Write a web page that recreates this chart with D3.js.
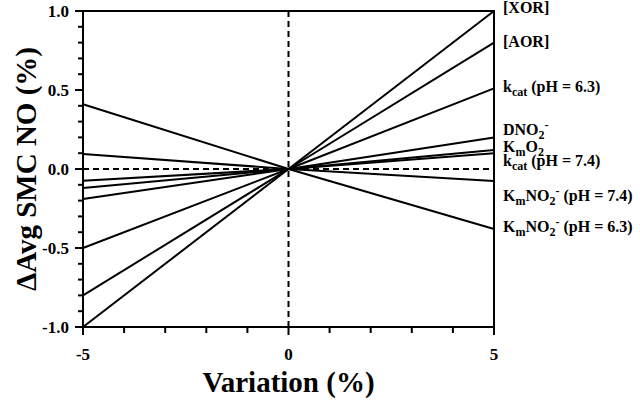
<!DOCTYPE html>
<html>
<head>
<meta charset="utf-8">
<script src="https://cdn.jsdelivr.net/npm/d3@7"></script>
<style>
  body { margin: 0; background: #fff; }
  text { font-family: "Liberation Serif", "Times New Roman", serif; font-weight: bold; fill: #000; }
</style>
</head>
<body>
<div id="chart"></div>
<script>
// Sensitivity of average SMC NO to a +/-5% parameter variation
const xPoints = [-5, 0, 5];
const seriesNames = ["XOR", "AOR", "kcat63", "DNO2", "KmO2", "kcat74", "KmNO2_74", "KmNO2_63"];
const leftValues = [-1.0, -0.8, -0.5, -0.19, -0.12, -0.075, 0.095, 0.41];
const rightValues = [1.0, 0.8, 0.51, 0.20, 0.12, 0.10, -0.076, -0.38];

// label pieces: [text, kind]  kind = n | sub | sup
const labelParts = [
  [["[XOR]", "n"]],
  [["[AOR]", "n"]],
  [["k", "n"], ["cat", "sub"], [" (pH = 6.3)", "n"]],
  [["DNO", "n"], ["2", "sub"], ["-", "sup"]],
  [["K", "n"], ["m", "sub"], ["O", "n"], ["2", "sub"]],
  [["k", "n"], ["cat", "sub"], [" (pH = 7.4)", "n"]],
  [["K", "n"], ["m", "sub"], ["NO", "n"], ["2", "sub"], ["-", "sup"], [" (pH = 7.4)", "n"]],
  [["K", "n"], ["m", "sub"], ["NO", "n"], ["2", "sub"], ["-", "sup"], [" (pH = 6.3)", "n"]]
];
// label baselines in data units of the y axis
const labelY = [0.985, 0.775, 0.49, 0.215, 0.105, 0.02, -0.20, -0.40];

const xMajor = [-5, 0, 5];
const xMinor = [-5, -4, -3, -2, -1, 0, 1, 2, 3, 4, 5];
const yMajor = [-1, -0.5, 0, 0.5, 1];
const yMinor = d3.range(-10, 11).map(d => d / 10);

const width = 640, height = 401;
const margin = { top: 11, right: 146, bottom: 74, left: 83 };

const svg = d3.select("#chart").append("svg")
  .attr("width", width)
  .attr("height", height);

const x = d3.scaleLinear().domain([-5, 5]).range([margin.left, width - margin.right]);
const y = d3.scaleLinear().domain([-1, 1]).range([height - margin.bottom, margin.top]);

// tick marks (outward)
const ticks = svg.append("g");
ticks.selectAll(".xt")
  .data(xMinor)
  .enter().append("line")
  .attr("class", "xt")
  .attr("stroke", "#000").attr("stroke-width", 2)
  .attr("x1", d => x(d)).attr("x2", d => x(d))
  .attr("y1", y(-1)).attr("y2", d => y(-1) + (xMajor.includes(d) ? 8 : 6));
ticks.selectAll(".yt")
  .data(yMinor)
  .enter().append("line")
  .attr("class", "yt")
  .attr("stroke", "#000").attr("stroke-width", 2)
  .attr("y1", d => y(d)).attr("y2", d => y(d))
  .attr("x1", x(-5)).attr("x2", d => x(-5) - (yMajor.some(v => Math.abs(v - d) < 1e-9) ? 8 : 5));

// tick labels
svg.selectAll(".xl")
  .data(xMajor)
  .enter().append("text")
  .attr("x", d => x(d))
  .attr("y", y(-1) + 33)
  .attr("text-anchor", "middle")
  .attr("font-size", 17)
  .text(d => String(d));
svg.selectAll(".yl")
  .data(yMajor)
  .enter().append("text")
  .attr("x", x(-5) - 14)
  .attr("y", d => y(d))
  .attr("dy", "0.35em")
  .attr("text-anchor", "end")
  .attr("font-size", 17)
  .text(d => d.toFixed(1));

// frame
svg.append("rect")
  .attr("x", x(-5)).attr("y", y(1))
  .attr("width", x(5) - x(-5)).attr("height", y(-1) - y(1))
  .attr("fill", "none").attr("stroke", "#000").attr("stroke-width", 2);

// dashed zero lines
svg.append("line")
  .attr("x1", x(-5)).attr("x2", x(5)).attr("y1", y(0)).attr("y2", y(0))
  .attr("stroke", "#000").attr("stroke-width", 2).attr("stroke-dasharray", "6,4");
svg.append("line")
  .attr("x1", x(0)).attr("x2", x(0)).attr("y1", y(-1)).attr("y2", y(1))
  .attr("stroke", "#000").attr("stroke-width", 2).attr("stroke-dasharray", "6,4");

// series lines
const seriesData = seriesNames.map((name, i) => ({
  name,
  points: [[xPoints[0], leftValues[i]], [xPoints[1], 0], [xPoints[2], rightValues[i]]]
}));

const line = d3.line().x(d => x(d[0])).y(d => y(d[1]));

svg.selectAll(".series")
  .data(seriesData)
  .enter()
  .append("path")
  .attr("class", "series")
  .attr("d", d => line(d.points))
  .attr("fill", "none")
  .attr("stroke", "#000")
  .attr("stroke-width", 2);

// right side labels
labelParts.forEach((parts, i) => {
  const t = svg.append("text")
    .attr("x", x(5) + 9)
    .attr("y", y(labelY[i]))
    .attr("font-size", 16);
  let shift = 0;
  parts.forEach(([txt, kind]) => {
    let target = kind === "sub" ? 4 : kind === "sup" ? -6 : 0;
    t.append("tspan")
      .attr("dy", target - shift)
      .attr("font-size", kind === "n" ? 16 : 12)
      .text(txt);
    shift = target;
  });
});

// axis titles
svg.append("text")
  .attr("x", (x(-5) + x(5)) / 2)
  .attr("y", 392)
  .attr("text-anchor", "middle")
  .attr("font-size", 29)
  .text("Variation (%)");

svg.append("text")
  .attr("transform", `translate(36,${y(0)}) rotate(-90)`)
  .attr("text-anchor", "middle")
  .attr("font-size", 29)
  .text("ΔAvg SMC NO (%)");
</script>
</body>
</html>
